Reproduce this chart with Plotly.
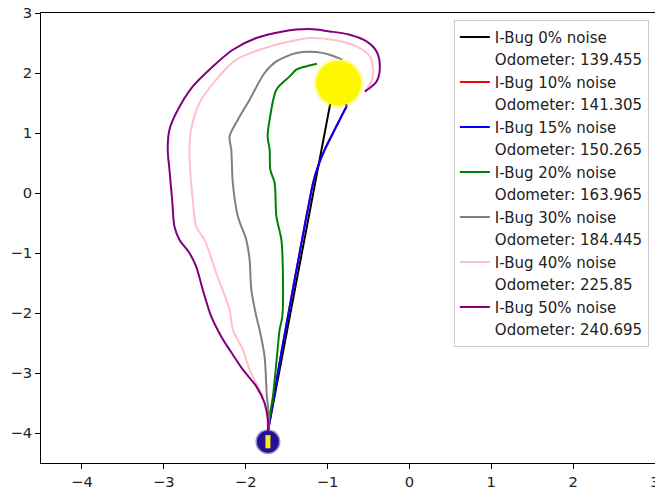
import plotly.graph_objects as go

# Start and goal positions
start_marker = (-1.728, -4.145)
goal_xy = (-0.865, 1.83)

# Robot paths for each noise level
x_0 = [-1.725, -0.973, -0.92]
y_0 = [-3.95, 1.443, 1.72]

x_10 = [-1.725, -1.707, -1.558, -1.258, -1.218, -1.177, -1.116, -1.034, -0.933, -0.851, -0.789, -0.769, -0.865]
y_10 = [-3.95, -3.807, -2.612, -0.390, -0.112, 0.167, 0.443, 0.722, 1.000, 1.222, 1.388, 1.443, 1.83]

x_15 = [-1.725, -1.707, -1.558, -1.258, -1.218, -1.177, -1.116, -1.034, -0.933, -0.851, -0.789, -0.769, -0.865]
y_15 = [-3.95, -3.807, -2.612, -0.390, -0.112, 0.167, 0.443, 0.722, 1.000, 1.222, 1.388, 1.443, 1.83]

x_20 = [-1.725, -1.707, -1.667, -1.625, -1.585, -1.552, -1.545, -1.564, -1.625, -1.646, -1.699, -1.707,
        -1.732, -1.707, -1.625, -1.463, -1.381, -1.279, -1.129]
y_20 = [-3.95, -3.723, -3.390, -2.828, -2.278, -2.057, -1.333, -0.778, -0.390, 0.167, 0.388, 0.722,
        0.943, 1.222, 1.722, 1.944, 2.055, 2.105, 2.155]

x_30 = [-1.725, -1.716, -1.741, -1.769, -1.830, -1.870, -1.931, -1.952, -1.993, -2.095, -2.157, -2.176,
        -2.197, -2.095, -1.952, -1.769, -1.625, -1.381, -1.136, -0.973, -0.818]
y_30 = [-3.95, -3.723, -3.390, -2.723, -2.278, -2.057, -1.612, -1.112, -0.778, -0.390, 0.167, 0.722,
        0.943, 1.222, 1.555, 2.000, 2.193, 2.333, 2.350, 2.305, 2.222]

x_40 = [-1.725, -1.748, -1.789, -1.830, -1.952, -2.034, -2.157, -2.197, -2.360, -2.503, -2.605, -2.646,
        -2.678, -2.687, -2.666, -2.564, -2.360, -2.115, -1.830, -1.545, -1.218, -0.891, -0.646, -0.483,
        -0.443, -0.463, -0.524, -0.532]
y_40 = [-3.95, -3.662, -3.390, -3.278, -2.945, -2.612, -2.278, -1.945, -1.333, -0.778, -0.557, -0.112,
        0.388, 0.722, 1.055, 1.500, 1.888, 2.222, 2.388, 2.500, 2.583, 2.543, 2.443, 2.277,
        2.055, 1.860, 1.722, 1.667]

x_50 = [-1.728, -1.728, -1.769, -1.870, -2.034, -2.197, -2.299, -2.421, -2.524, -2.605, -2.687, -2.809,
        -2.870, -2.898, -2.931, -2.952, -2.931, -2.849, -2.646, -2.401, -2.157, -1.870, -1.545, -1.218,
        -0.973, -0.728, -0.524, -0.401, -0.361, -0.401, -0.544]
y_50 = [-3.973, -3.778, -3.500, -3.223, -2.945, -2.612, -2.390, -2.057, -1.612, -1.223, -1.000, -0.778,
        -0.557, -0.112, 0.388, 0.722, 1.055, 1.333, 1.777, 2.110, 2.388, 2.583, 2.693, 2.733,
        2.693, 2.638, 2.527, 2.360, 2.110, 1.860, 1.693]

labels = ["I-Bug 0% noise", "I-Bug 10% noise", "I-Bug 15% noise", "I-Bug 20% noise",
          "I-Bug 30% noise", "I-Bug 40% noise", "I-Bug 50% noise"]
odometer = [139.455, 141.305, 150.265, 163.965, 184.445, 225.85, 240.695]
colors = ["black", "red", "blue", "green", "gray", "pink", "purple"]
shapes = ["linear", "spline", "spline", "spline", "spline", "spline", "spline"]
paths = [(x_0, y_0), (x_10, y_10), (x_15, y_15), (x_20, y_20),
         (x_30, y_30), (x_40, y_40), (x_50, y_50)]

fig = go.Figure()

for (px, py), name, odo, col, shp in zip(paths, labels, odometer, colors, shapes):
    fig.add_trace(go.Scatter(x=px, y=py, mode="lines", name=name,
                             line=dict(color=col, width=2, shape=shp, smoothing=0.8)))
    # text-only legend row with the odometer reading
    fig.add_trace(go.Scatter(x=[None], y=[None], mode="lines", name=f"Odometer: {odo}",
                             line=dict(color="rgba(0,0,0,0)", width=2)))

# Goal: soft yellow disc
fig.add_trace(go.Scatter(x=[goal_xy[0]], y=[goal_xy[1]], mode="markers", showlegend=False,
                         marker=dict(size=50, color="rgba(255,245,0,0.3)", line=dict(width=0))))
fig.add_trace(go.Scatter(x=[goal_xy[0]], y=[goal_xy[1]], mode="markers", showlegend=False,
                         marker=dict(size=45, color="#fff700", line=dict(width=0))))

# Start: dark disc with a yellow streak
fig.add_trace(go.Scatter(x=[start_marker[0]], y=[start_marker[1]], mode="markers", showlegend=False,
                         marker=dict(size=25, color="rgba(38,16,154,0.45)", line=dict(width=0))))
fig.add_trace(go.Scatter(x=[start_marker[0]], y=[start_marker[1]], mode="markers", showlegend=False,
                         marker=dict(size=22, color="#26109a", line=dict(width=0))))
fig.add_trace(go.Scatter(x=[start_marker[0], start_marker[0]],
                         y=[start_marker[1] - 0.11, start_marker[1] + 0.11],
                         mode="lines", showlegend=False,
                         line=dict(color="#f5ee10", width=5)))

axis_common = dict(
    showgrid=False, zeroline=False, showline=True, linecolor="black", linewidth=1,
    ticks="outside", ticklen=5, tickcolor="black", tickwidth=1,
    tickfont=dict(family="DejaVu Sans", size=14.7, color="#222"),
    range=[-4.5, 3], dtick=1, tick0=0, ticklabeloverflow="allow", automargin=False,
)

fig.update_layout(
    width=655, height=491,
    margin=dict(l=41, r=0, t=13, b=28),
    paper_bgcolor="white", plot_bgcolor="white",
    xaxis=dict(**axis_common, mirror=True),
    yaxis=dict(**axis_common, mirror=False),
    legend=dict(
        x=0.990, y=0.985, xanchor="right", yanchor="top",
        bgcolor="rgba(255,255,255,0.8)", bordercolor="#cccccc", borderwidth=1,
        font=dict(family="DejaVu Sans", size=15, color="#222"),
        tracegroupgap=0,
    ),
)

fig.write_html("out.html")
